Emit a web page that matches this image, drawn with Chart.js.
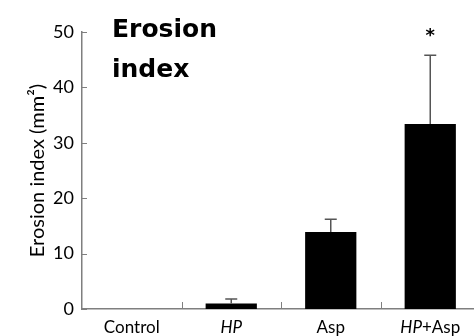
<!DOCTYPE html>
<html>
<head>
<meta charset="utf-8">
<script src="https://cdn.jsdelivr.net/npm/chart.js@4/dist/chart.umd.min.js"></script>
<style>
  html, body { margin: 0; padding: 0; background: #fff; overflow: hidden; }
  #wrap { width: 490px; height: 336px; position: relative; }
</style>
</head>
<body>
<div id="wrap"><canvas id="c" width="490" height="336"></canvas></div>
<script>
// ---- data ----
const categories = ['Control', 'HP', 'Asp', 'HP+Asp'];
const italicTokens = ['HP'];
const values = [0, 1.0, 13.9, 33.4];
const errors = [0, 0.8, 2.3, 12.4];
const significance = ['', '', '', '*'];
const yTicks = [0, 10, 20, 30, 40, 50];
const yTitle = 'Erosion index (mm\u00B2)';
const titleLines = ['Erosion', 'index'];

const axisColor = '#7f7f7f';
const labelFont = 'Lato, "DejaVu Sans", sans-serif';

const overlay = {
  id: 'overlay',
  afterDatasetsDraw(chart) {
    const ctx = chart.ctx;
    const x = chart.scales.x, y = chart.scales.y;
    const area = chart.chartArea;
    ctx.save();
    // inner tick marks on y axis
    ctx.strokeStyle = axisColor;
    ctx.lineWidth = 1;
    yTicks.forEach(v => {
      const py = Math.round(y.getPixelForValue(v)) + 0.5;
      ctx.beginPath();
      ctx.moveTo(area.left, py);
      ctx.lineTo(area.left + 5, py);
      ctx.stroke();
    });
    // category boundary ticks on x axis (pointing up)
    for (let i = 1; i < categories.length; i++) {
      const px = Math.round((x.getPixelForValue(i - 1) + x.getPixelForValue(i)) / 2) + 0.5;
      ctx.beginPath();
      ctx.moveTo(px, area.bottom);
      ctx.lineTo(px, area.bottom - 7);
      ctx.stroke();
    }
    // error bars
    ctx.strokeStyle = '#555';
    ctx.lineWidth = 1.5;
    values.forEach((v, i) => {
      if (!errors[i]) return;
      const px = x.getPixelForValue(i);
      const y0 = y.getPixelForValue(v);
      const y1 = y.getPixelForValue(v + errors[i]);
      ctx.beginPath();
      ctx.moveTo(px, y0);
      ctx.lineTo(px, y1);
      ctx.moveTo(px - 6, y1);
      ctx.lineTo(px + 6, y1);
      ctx.stroke();
    });
    // significance markers
    ctx.fillStyle = '#000';
    ctx.font = 'bold 18px "DejaVu Sans", sans-serif';
    ctx.textAlign = 'center';
    ctx.textBaseline = 'middle';
    values.forEach((v, i) => {
      if (!significance[i]) return;
      const px = x.getPixelForValue(i);
      const py = y.getPixelForValue(v + errors[i]) - 19;
      ctx.fillText(significance[i], px, py);
    });
    // x category labels with italic tokens
    ctx.textBaseline = 'middle';
    ctx.textAlign = 'left';
    const re = new RegExp('(' + italicTokens.join('|') + ')');
    categories.forEach((lab, i) => {
      const parts = lab.split(re).filter(s => s.length);
      const fonts = parts.map(p => (italicTokens.includes(p) ? 'italic ' : '') + '17px ' + labelFont);
      let total = 0;
      const widths = parts.map((p, k) => { ctx.font = fonts[k]; const w = ctx.measureText(p).width; total += w; return w; });
      let px = x.getPixelForValue(i) - total / 2;
      parts.forEach((p, k) => { ctx.font = fonts[k]; ctx.fillText(p, px, area.bottom + 19); px += widths[k]; });
    });
    // chart title
    ctx.font = 'bold 25px "DejaVu Sans", sans-serif';
    ctx.textBaseline = 'alphabetic';
    titleLines.forEach((t, k) => ctx.fillText(t, 112, 37 + k * 40));
    ctx.restore();
  }
};

new Chart(document.getElementById('c'), {
  type: 'bar',
  data: {
    labels: categories,
    datasets: [{
      data: values,
      backgroundColor: '#000',
      borderWidth: 0,
      barPercentage: 0.515,
      categoryPercentage: 1.0
    }]
  },
  options: {
    responsive: false,
    animation: false,
    layout: { padding: { top: 32, right: 10, left: 0, bottom: 0 } },
    plugins: { legend: { display: false }, tooltip: { enabled: false } },
    scales: {
      x: {
        offset: true,
        grid: { display: false, drawTicks: false },
        border: { display: true, color: axisColor, width: 1.5 },
        ticks: { display: false },
        afterFit(s) { s.height = 27; }
      },
      y: {
        min: 0, max: 50,
        afterBuildTicks(s) { s.ticks = yTicks.map(v => ({ value: v })); },
        grid: { display: false, drawTicks: false },
        border: { display: true, color: axisColor, width: 1.5 },
        ticks: { color: '#000', font: { family: labelFont, size: 18 }, padding: 8 },
        title: { display: true, text: yTitle, color: '#000', font: { family: labelFont, size: 20 }, padding: { top: 26, bottom: 0 } },
        afterFit(s) { s.width = 82; }
      }
    }
  },
  plugins: [overlay]
});
</script>
</body>
</html>
